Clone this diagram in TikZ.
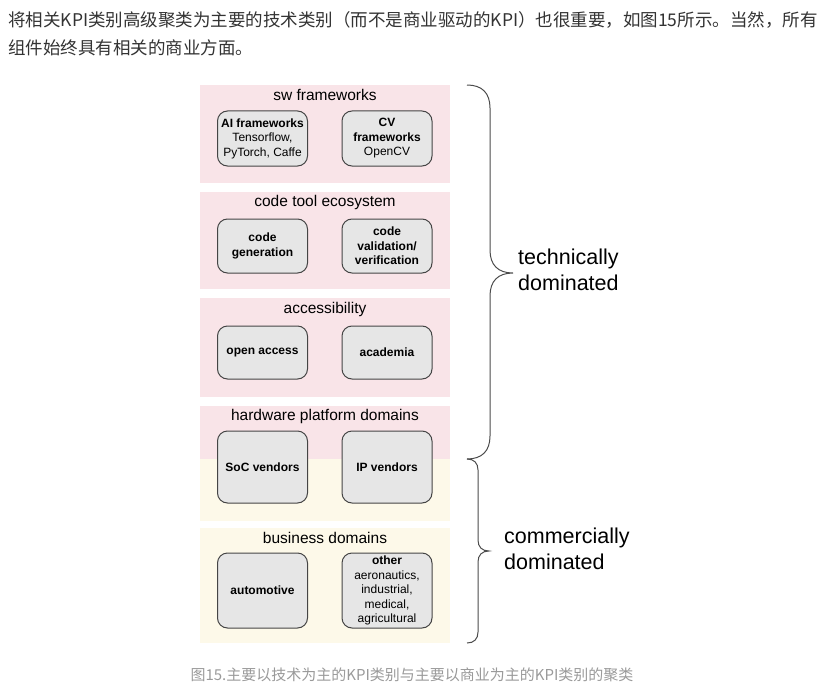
\documentclass[tikz,border=0pt]{standalone}
\usepackage{fontspec}
\setmainfont{Liberation Sans}
\newfontfamily\cjkfont{Noto Sans CJK SC}
\usepackage{xcolor}
\usetikzlibrary{positioning,calc}
\definecolor{techpink}{HTML}{F9E4E8}
\definecolor{bizyellow}{HTML}{FDF9E9}
\definecolor{boxgray}{HTML}{E6E6E6}
\definecolor{boxline}{HTML}{454545}
\definecolor{bodytext}{HTML}{333333}
\definecolor{captext}{HTML}{9A9A9A}

\begin{document}
\begin{tikzpicture}[x=1pt, y=-1pt,
  panel/.style={rectangle, minimum width=250pt, inner sep=0pt},
  ptitle/.style={inner sep=0pt, font=\fontsize{15.5}{18}\selectfont},
  kpi/.style={rectangle, rounded corners=10pt, draw=boxline, line width=1pt, fill=boxgray,
             align=center, minimum width=90pt, inner sep=1pt, font=\fontsize{12}{14.5}\selectfont},
  brace/.style={draw=black!70, line width=1pt},
  side/.style={anchor=west, align=left, inner sep=0pt, font=\fontsize{21.5}{26}\selectfont},
  cjk/.style={inner sep=0pt, font={\cjkfont\fontsize{17.5}{28}\selectfont}},
]
\useasboundingbox[fill=white] (0,0) rectangle (824,690);

\node[cjk, anchor=base west, text=bodytext] (intro1) at (8,27)
  {将相关KPI类别高级聚类为主要的技术类别（而不是商业驱动的KPI）也很重要，如图15所示。当然，所有};
\node[cjk, anchor=base west, text=bodytext] (intro2) at (8,55) {组件始终具有相关的商业方面。};

\node[panel, fill=techpink, minimum height=98pt]  (sw)     at (325,134)   {};
\node[panel, fill=techpink, minimum height=97pt]  (tools)  at (325,240.5) {};
\node[panel, fill=techpink, minimum height=99pt]  (access) at (325,347.5) {};
\node[panel, fill=techpink, minimum height=115pt] (hw)     at (325,463.5) {};
\coordinate (split) at (200,459);
\fill[bizyellow] (split) rectangle (hw.south east);
\node[panel, fill=bizyellow, minimum height=115pt] (biz)   at (325,585.5) {};

\node[ptitle] (swT)     at (325,95)  {sw frameworks};
\node[ptitle] (toolsT)  at (325,202) {code tool ecosystem};
\node[ptitle] (accessT) at (325,309) {accessibility};
\node[ptitle] (hwT)     at (325,416) {hardware platform domains};
\node[ptitle] (bizT)    at (325,538) {business domains};

\node[kpi, minimum height=55pt] (ai)    at (262.5,138.5) {\textbf{AI frameworks}\\ Tensorflow,\\ PyTorch, Caffe};
\node[kpi, minimum height=55pt] (cv)    at (387,138.5)   {\textbf{CV}\\ \textbf{frameworks}\\ OpenCV};
\node[kpi, minimum height=54pt] (gen)   at (262.5,246)   {\textbf{code}\\ \textbf{generation}};
\node[kpi, minimum height=54pt] (valid) at (387,246)     {\textbf{code}\\ \textbf{validation/}\\ \textbf{verification}};
\node[kpi, minimum height=53pt] (open)  at (262.5,352.5) {\textbf{open access}};
\node[kpi, minimum height=53pt] (acad)  at (387,352.5)   {\textbf{academia}};
\node[kpi, minimum height=72pt] (soc)   at (262.5,467)   {\textbf{SoC vendors}};
\node[kpi, minimum height=72pt] (ip)    at (387,467)     {\textbf{IP vendors}};
\node[kpi, minimum height=75pt] (auto)  at (262.5,590.5) {\textbf{automotive}};
\node[kpi, minimum height=75pt] (other) at (387,590.5)   {\textbf{other}\\ aeronautics,\\ industrial,\\ medical,\\ agricultural};

\draw[brace] (467,85) .. controls (482,85) and (490,93) .. (490,108) -- (490,250)
  .. controls (490,265) and (498,273) .. (513,273)
  .. controls (498,273) and (490,281) .. (490,296) -- (490,436)
  .. controls (490,451) and (482,459) .. (467,459);
\draw[brace] (467,459) .. controls (474,459) and (478,463) .. (478,470) -- (478,540)
  .. controls (478,547) and (482,551) .. (489,551)
  .. controls (482,551) and (478,555) .. (478,562) -- (478,632)
  .. controls (478,639) and (474,643) .. (467,643);

\node[side] (tech) at (518,270) {technically\\ dominated};
\node[side] (comm) at (504,549) {commercially\\ dominated};

\node[inner sep=0pt, anchor=base, text=captext, font={\cjkfont\fontsize{15}{18}\selectfont}] (caption) at (412,680)
  {图15.主要以技术为主的KPI类别与主要以商业为主的KPI类别的聚类};
\end{tikzpicture}
\end{document}
